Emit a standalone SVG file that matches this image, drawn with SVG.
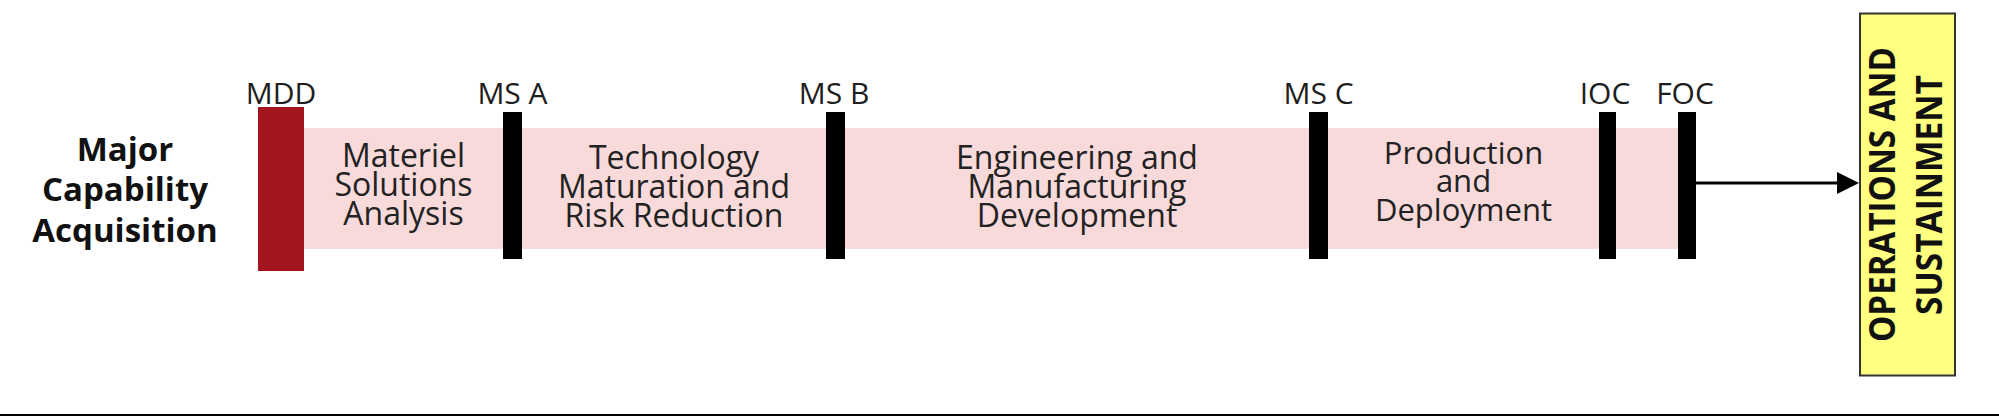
<svg xmlns="http://www.w3.org/2000/svg" width="1999" height="416" viewBox="0 0 1999 416">
  <style>
    .lbl { font-family: "Open Sans", "Liberation Sans", sans-serif; font-size: 30px; fill: #1e1e1e; text-anchor: middle; }
    .body { font-family: "Open Sans", "Liberation Sans", sans-serif; font-size: 32px; fill: #222; text-anchor: middle; }
    .title { font-family: "Open Sans", "Liberation Sans", sans-serif; font-size: 33px; font-weight: bold; fill: #111; text-anchor: middle; }
    .vert { font-family: "Open Sans", "Liberation Sans", sans-serif; font-size: 35px; font-weight: bold; fill: #111; text-anchor: middle; }
    .bar { fill: #000; }
    .band { fill: #F9DADB; }
  </style>
  <rect x="0" y="0" width="1999" height="416" fill="#fff"/>

  <g id="title">
    <text class="title" x="125" y="161">Major</text>
    <text class="title" x="125" y="201">Capability</text>
    <text class="title" x="125" y="242">Acquisition</text>
  </g>

  <g id="band">
    <rect class="band" x="304" y="128" width="1374" height="121"/>
  </g>

  <g id="phase-msa">
    <text class="body" x="403.5" y="167">Materiel</text>
    <text class="body" x="403.5" y="196">Solutions</text>
    <text class="body" x="403.5" y="225">Analysis</text>
  </g>
  <g id="phase-tmrr">
    <text class="body" x="674" y="169">Technology</text>
    <text class="body" x="674" y="198">Maturation and</text>
    <text class="body" x="674" y="227">Risk Reduction</text>
  </g>
  <g id="phase-emd">
    <text class="body" x="1077" y="169">Engineering and</text>
    <text class="body" x="1077" y="198">Manufacturing</text>
    <text class="body" x="1077" y="227">Development</text>
  </g>
  <g id="phase-pd">
    <text class="body" x="1463.5" y="164" style="font-size:31px">Production</text>
    <text class="body" x="1463.5" y="192" style="font-size:31px">and</text>
    <text class="body" x="1463.5" y="221" style="font-size:31px">Deployment</text>
  </g>

  <g id="mdd">
    <rect x="258" y="107" width="46" height="164" fill="#A3161F"/>
    <text class="lbl" x="281" y="104">MDD</text>
  </g>
  <g id="ms-a">
    <rect class="bar" x="503" y="112" width="19" height="147"/>
    <text class="lbl" x="512.5" y="104">MS A</text>
  </g>
  <g id="ms-b">
    <rect class="bar" x="826" y="112" width="19" height="147"/>
    <text class="lbl" x="834" y="104">MS B</text>
  </g>
  <g id="ms-c">
    <rect class="bar" x="1309" y="112" width="19" height="147"/>
    <text class="lbl" x="1318.5" y="104">MS C</text>
  </g>
  <g id="ioc">
    <rect class="bar" x="1599" y="112" width="17" height="147"/>
    <text class="lbl" x="1605" y="104">IOC</text>
  </g>
  <g id="foc">
    <rect class="bar" x="1678" y="112" width="18" height="147"/>
    <text class="lbl" x="1685" y="104">FOC</text>
  </g>

  <g id="operations-sustainment">
    <rect x="1860" y="13.5" width="95" height="362" fill="#FFFF80" stroke="#333" stroke-width="2"/>
    <text class="vert" transform="translate(1895,194.5) rotate(-90)" textLength="295" lengthAdjust="spacingAndGlyphs">OPERATIONS AND</text>
    <text class="vert" transform="translate(1942,195) rotate(-90)" textLength="240" lengthAdjust="spacingAndGlyphs">SUSTAINMENT</text>
  </g>

  <g id="connectors">
    <line x1="1696" y1="183" x2="1837" y2="183" stroke="#000" stroke-width="3"/>
    <polygon points="1837,172 1859,183 1837,194" fill="#000"/>
  </g>

  <rect x="0" y="414" width="1999" height="2" fill="#000"/>
</svg>
